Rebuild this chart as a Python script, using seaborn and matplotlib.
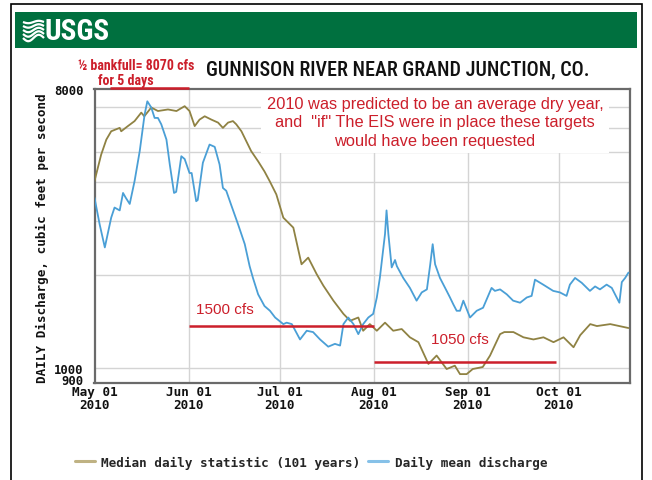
import numpy as np
import pandas as pd
import matplotlib
matplotlib.use("Agg")
import matplotlib.pyplot as plt
from matplotlib.lines import Line2D
from matplotlib.patches import Rectangle
from matplotlib.ticker import FixedLocator, FixedFormatter, NullFormatter
import matplotlib.transforms as mtransforms
import seaborn as sns

# ---------------- data ----------------
start_date = "2010-05-01"
end_offset_days = 176.4  # right edge of the plot (about Oct 24)

# days since May 01 2010, daily discharge (cfs)
median_day = [0, 2.2, 3.9, 5.5, 8.3, 8.8, 11, 13.2, 15.4, 16.4, 18.7, 20.9, 24.2, 27, 29.7,
              31.3, 33, 34.6, 36.3, 38.5, 40.7, 42.3, 44, 45.6, 46.7, 48.4, 51.6, 53.9, 56,
              57.7, 59.9, 62.2, 65.5, 68.2, 70.4, 73.2, 75.4, 78.7, 82, 84.2, 86.9, 88.5,
              90.7, 93, 95.7, 98.4, 101.2, 103.9, 106.7, 110, 112.7, 116, 118.7, 120.4,
              122.6, 124.6, 127.9, 130.3, 133.6, 135, 138, 141.3, 144.6, 147.9, 151.2,
              154.5, 157.8, 160, 163.3, 165.5, 169.9, 175.9]
median_cfs = [4030, 4910, 5490, 5840, 5990, 5840, 6070, 6300, 6710, 6530, 6970, 6790, 6870,
              6790, 7040, 6790, 6070, 6370, 6530, 6370, 6230, 5990, 6230, 6300, 6150, 5840,
              5040, 4670, 4330, 4030, 3650, 3070, 2850, 2170, 2280, 2015, 1850, 1655, 1500,
              1425, 1460, 1323, 1390, 1323, 1405, 1323, 1340, 1260, 1215, 1033, 1100, 995,
              1020, 958, 958, 995, 1010, 1100, 1290, 1310, 1310, 1260, 1240, 1260, 1215,
              1260, 1170, 1280, 1390, 1370, 1390, 1350]

daily_day = [0, 1.7, 3.4, 5.5, 6.6, 8.3, 9.4, 10.3, 11.6, 13.2, 14.9, 16.5, 17.4, 18.7, 19.8,
             20.9, 22, 23.7, 24.8, 26.2, 26.9, 28.6, 29.7, 31.3, 32, 33.5, 34, 35.7, 37.9,
             39.6, 41.2, 42.3, 43.4, 45, 47.3, 49.5, 51.1, 52.2, 53.9, 56, 57.8, 59.5, 62.2,
             63.3, 65, 67.7, 69.9, 72, 74.3, 77, 79.2, 80.9, 82, 83.6, 85.3, 86.9, 88.5,
             90.2, 91.8, 93, 94, 95.7, 96.2, 96.8, 97.9, 99, 99.6, 101.7, 103.9, 106.1,
             107.8, 109.5, 110.6, 111.4, 112.2, 113.8, 116, 117.1, 118.2, 119.3, 120.4,
             121.5, 123.7, 125.9, 128, 130.8, 131.9, 133.6, 135.8, 137.9, 140.2, 142.4, 144,
             145.1, 147.8, 151.1, 153.3, 155.5, 156.6, 158.3, 160.5, 163.2, 164.9, 166.5,
             168.7, 170.4, 172, 172.9, 173.7, 174.8, 175.9]
daily_cfs = [3560, 2920, 2460, 3070, 3310, 3240, 3690, 3560, 3400, 4030, 5040, 6610, 7300,
             6970, 6450, 6450, 6150, 5490, 4560, 3690, 3720, 4850, 4750, 4280, 4280, 3470,
             3500, 4620, 5290, 5200, 4560, 3830, 3750, 3380, 2920, 2520, 2140, 1960, 1735,
             1590, 1535, 1460, 1390, 1405, 1390, 1240, 1323, 1310, 1240, 1175, 1200, 1185,
             1390, 1460, 1390, 1290, 1390, 1460, 1500, 1695, 1960, 2720, 3240, 2720, 2120,
             2240, 2140, 1960, 1820, 1655, 1760, 1800, 2170, 2520, 2170, 1960, 1780, 1695,
             1610, 1535, 1535, 1655, 1460, 1535, 1570, 1820, 1780, 1800, 1735, 1655, 1630,
             1695, 1715, 1935, 1865, 1780, 1760, 1715, 1865, 1960, 1890, 1780, 1840, 1800,
             1865, 1820, 1695, 1630, 1900, 1960, 2040]

month_ticks = ["2010-05-01", "2010-06-01", "2010-07-01", "2010-08-01", "2010-09-01", "2010-10-01"]
month_labels = ["May 01\n2010", "Jun 01\n2010", "Jul 01\n2010", "Aug 01\n2010", "Sep 01\n2010", "Oct 01\n2010"]
y_tick_values = [900, 1000, 8000]
y_tick_labels = ["900", "1000", "8000"]
y_grid_values = [1000, 2000, 3000, 4000, 5000, 6000, 7000]

series_labels = ["Median daily statistic (101 years)", "Daily mean discharge"]

# hand-drawn flow targets (red bars) as they appear on the chart
target_cfs = [8070, 1370, 1045]
target_start = ["2010-05-06", "2010-06-01", "2010-08-01"]
target_end = ["2010-06-01", "2010-08-01", "2010-09-30"]

# ---------------- styling ----------------
sns.set_style("white")
MONO = "DejaVu Sans Mono"
SANS = ["Liberation Sans", "DejaVu Sans"]
NARROW = ["Roboto Condensed", "DejaVu Sans"]
RED = "#cc1f2b"
GREEN = "#00703f"
MEDIAN_C = "#8f8243"
DAILY_C = "#4a9fd6"
MONO_SIZE = 9.1

W, H = 652, 481
fig = plt.figure(figsize=(W / 100, H / 100), dpi=100)
fig.patch.set_facecolor("white")

L, R, T, B = 94.5, 630, 90, 383.5
ax = fig.add_axes([L / W, 1 - B / H, (R - L) / W, (B - T) / H])

t0 = pd.Timestamp(start_date)
med_df = pd.DataFrame({"date": t0 + pd.to_timedelta(median_day, unit="D"), "cfs": median_cfs})
day_df = pd.DataFrame({"date": t0 + pd.to_timedelta(daily_day, unit="D"), "cfs": daily_cfs})

sns.lineplot(data=med_df, x="date", y="cfs", ax=ax, color=MEDIAN_C, lw=1.3,
             estimator=None, sort=False, zorder=3)
sns.lineplot(data=day_df, x="date", y="cfs", ax=ax, color=DAILY_C, lw=1.3,
             estimator=None, sort=False, zorder=3)

ax.set_yscale("log")
ax.set_ylim(900, 8000)
ax.set_xlim(t0, t0 + pd.Timedelta(days=end_offset_days))

ax.yaxis.set_major_locator(FixedLocator(y_tick_values))
ax.yaxis.set_major_formatter(FixedFormatter(y_tick_labels))
ax.yaxis.set_minor_locator(FixedLocator(y_grid_values))
ax.yaxis.set_minor_formatter(NullFormatter())

xt = pd.to_datetime(month_ticks)
ax.set_xticks(xt)
ax.set_xticklabels(month_labels)

ax.grid(False)
for v in y_grid_values:
    ax.axhline(v, color="#d4d4d4", lw=1.0, zorder=0.5)
for d in xt[1:]:
    ax.axvline(d, color="#d4d4d4", lw=1.0, zorder=0.5)

ax.tick_params(axis="both", which="both", length=0)
ax.tick_params(axis="y", pad=8)
ax.tick_params(axis="x", pad=2)
for lab in ax.get_xticklabels() + ax.get_yticklabels():
    lab.set_fontfamily(MONO)
    lab.set_fontweight("bold")
    lab.set_fontsize(MONO_SIZE)
    lab.set_color("#111111")
for lab in ax.get_yticklabels():
    lab.set_fontsize(8.8)
for lab in ax.get_xticklabels():
    lab.set_linespacing(1.0)
# nudge the "900" and "1000" labels up slightly, as in the reference
ylabs = ax.get_yticklabels()
for lab, dy in zip(ylabs[:2], [3.0, 0.8]):
    lab.set_transform(lab.get_transform() +
                      mtransforms.ScaledTranslation(0, dy / 100, fig.dpi_scale_trans))
ax.set_xlabel("")
ax.set_ylabel("")
for s in ax.spines.values():
    s.set_color("#6a6a6a")
    s.set_linewidth(1.6)
    s.set_visible(True)

# red target bars
for cfs, s0, s1 in zip(target_cfs, target_start, target_end):
    ax.hlines(cfs, pd.Timestamp(s0), pd.Timestamp(s1), color=RED, lw=1.8,
              zorder=4, clip_on=False)

# annotations
ax.text(435 / W, 1 - 97 / H,
        "2010 was predicted to be an average dry year,\nand  \"if\" The EIS were in place these targets\nwould have been requested",
        transform=fig.transFigure, ha="center", va="top", fontsize=11.8, color=RED,
        family=SANS, linespacing=1.28, zorder=1.5,
        bbox=dict(facecolor="white", edgecolor="none", pad=4))
ax.text(225 / W, 1 - 310 / H, "1500 cfs", transform=fig.transFigure, ha="center",
        va="center", fontsize=11, color=RED, family=SANS, zorder=5)
ax.text(460 / W, 1 - 340 / H, "1050 cfs", transform=fig.transFigure, ha="center",
        va="center", fontsize=11, color=RED, family=SANS, zorder=5)

fig.text(136 / W, 1 - 66.5 / H, "½ bankfull= 8070 cfs", ha="center", va="center",
         fontsize=10, color=RED, family=NARROW, fontweight="bold")
fig.text(126 / W, 1 - 81.5 / H, "for 5 days", ha="center", va="center",
         fontsize=10, color=RED, family=NARROW, fontweight="bold")

# title
fig.text(398 / W, 1 - 70 / H, "GUNNISON RIVER NEAR GRAND JUNCTION, CO.", ha="center",
         va="center", fontsize=14.5, color="#111111", family=NARROW, fontweight="medium")

# y label
fig.text(42 / W, 1 - 238 / H, "DAILY Discharge, cubic feet per second", rotation=90,
         ha="center", va="center", fontsize=MONO_SIZE, family=MONO, fontweight="bold",
         color="#111111")

# header bar with USGS identifier
fig.add_artist(Rectangle((15 / W, 1 - 49 / H), (637 - 15) / W, 36 / H,
                         transform=fig.transFigure, facecolor=GREEN, edgecolor="none"))
xs = np.linspace(23, 44, 40)
for k, yb in enumerate([23, 27, 31, 35, 39]):
    amp = 1.2 + 0.5 * k
    ys = yb + amp * np.sin((xs - 23) / 21 * 2 * np.pi)
    fig.add_artist(Line2D(xs / W, 1 - ys / H, transform=fig.transFigure,
                          color="white", lw=1.6, solid_capstyle="butt"))
fig.text(45 / W, 1 - 31.5 / H, "USGS", ha="left", va="center", fontsize=21,
         color="white", family=NARROW, fontweight="bold")

# outer frame
fig.add_artist(Rectangle((11 / W, -0.02), (642 - 11) / W, (481 - 5) / H + 0.02,
                         transform=fig.transFigure, fill=False, edgecolor="black", lw=1.2))

# legend
handles = [Line2D([], [], color="#bfb283", lw=2.2), Line2D([], [], color="#86c1e8", lw=2.2)]
fig.legend(handles, series_labels, loc="center", bbox_to_anchor=(0.477, 1 - 463 / H),
           ncol=2, frameon=False, handlelength=1.6, handletextpad=0.5, columnspacing=0.6,
           prop={"family": MONO, "weight": "bold", "size": MONO_SIZE})

fig.savefig("out.png", dpi=100, facecolor="white")
